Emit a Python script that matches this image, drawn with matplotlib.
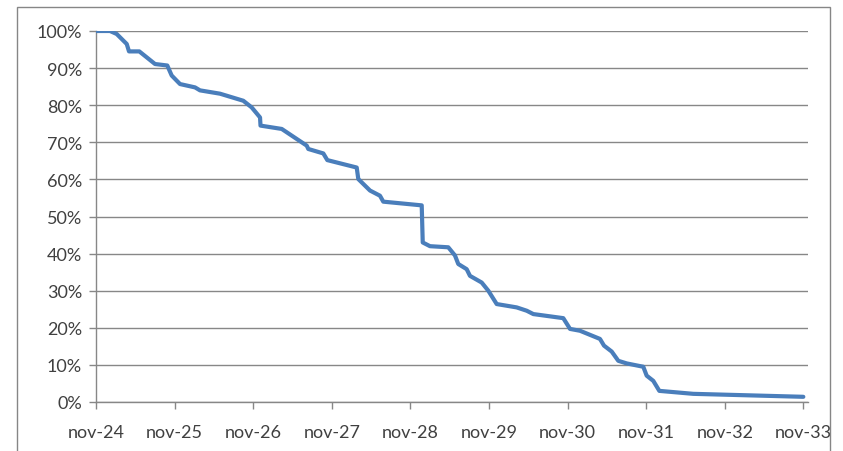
import matplotlib
matplotlib.use("Agg")
import matplotlib.pyplot as plt
from matplotlib.patches import Rectangle

# years after nov-24, remaining share in percent
years = [0.0, 0.178, 0.263, 0.391, 0.420, 0.551, 0.751, 0.907, 0.963, 1.069,
         1.260, 1.323, 1.578, 1.874, 1.981, 2.087, 2.093, 2.363, 2.681, 2.701,
         2.892, 2.943, 3.317, 3.337, 3.486, 3.613, 3.655, 4.144, 4.157, 4.249,
         4.482, 4.567, 4.609, 4.716, 4.758, 4.907, 4.991, 5.098, 5.352, 5.480,
         5.564, 5.945, 6.031, 6.158, 6.412, 6.463, 6.561, 6.645, 6.752, 6.963,
         7.006, 7.090, 7.167, 7.599, 8.999]
share = [100.0, 100.0, 99.2, 96.5, 94.5, 94.5, 91.1, 90.7, 88.0, 85.7,
         84.8, 84.0, 83.1, 81.2, 79.4, 76.7, 74.5, 73.6, 69.1, 68.2,
         67.0, 65.2, 63.2, 60.1, 57.0, 55.6, 54.0, 53.0, 43.0, 42.0,
         41.7, 39.5, 37.2, 35.8, 34.0, 32.2, 30.0, 26.4, 25.5, 24.6,
         23.7, 22.6, 19.7, 19.2, 17.0, 15.2, 13.6, 11.1, 10.4, 9.5,
         7.1, 5.7, 3.0, 2.2, 1.4]
xlabels = ["nov-24", "nov-25", "nov-26", "nov-27", "nov-28", "nov-29",
           "nov-30", "nov-31", "nov-32", "nov-33"]
ylabels = ["0%", "10%", "20%", "30%", "40%", "50%", "60%", "70%", "80%",
           "90%", "100%"]

plt.rcParams['font.family'] = ['Lato', 'DejaVu Sans']

fig = plt.figure(figsize=(8.43, 4.52), dpi=100)
fig.patches.append(Rectangle((17 / 843, -0.05), (830 - 17) / 843, 1.05 - 8 / 452,
                             transform=fig.transFigure, fill=False,
                             edgecolor="#868686", linewidth=1.0))

ax = fig.add_axes([96 / 843, 1 - 403 / 452, (808 - 96) / 843, (403 - 32) / 452])
ax.plot(years, share, color="#4A7EBB", linewidth=3.0, solid_joinstyle="round",
        solid_capstyle="round", zorder=3)

ax.set_xlim(0, (808 - 96) / 78.6)
ax.set_ylim(0, 100)
ax.set_xticks(range(len(xlabels)))
ax.set_xticklabels(xlabels)
ax.set_yticks(range(0, 101, 10))
ax.set_yticklabels(ylabels)
ax.grid(axis="y", color="#878787", linewidth=1.0)
ax.set_axisbelow(True)

for s in ["top", "right"]:
    ax.spines[s].set_visible(False)
for s in ["left", "bottom"]:
    ax.spines[s].set_color("#878787")
    ax.spines[s].set_linewidth(1.0)
ax.tick_params(axis="both", colors="#878787", labelcolor="#404040",
               labelsize=13, length=5, width=1.0, direction="out")
ax.tick_params(axis="x", pad=11)
ax.tick_params(axis="y", pad=5)

fig.savefig("out.png", dpi=100)
